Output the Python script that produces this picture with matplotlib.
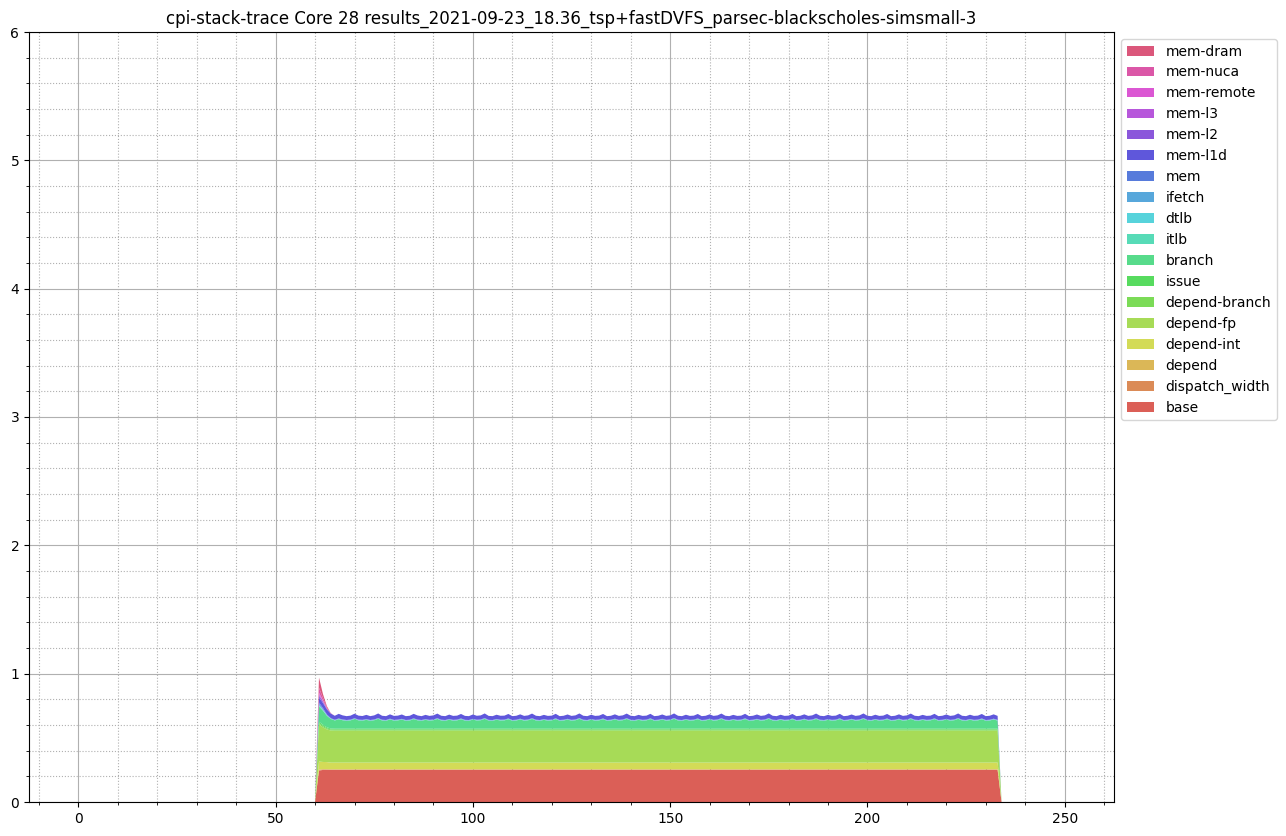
import numpy as np
import matplotlib
matplotlib.use("Agg")
import matplotlib.pyplot as plt
import seaborn as sns

# ---------------- data ----------------
x_values = list(range(0, 251))
start_x = 61   # first non-zero sample
end_x = 233    # last non-zero sample

labels = ["base", "dispatch_width", "depend", "depend-int", "depend-fp",
          "depend-branch", "issue", "branch", "itlb", "dtlb", "ifetch", "mem",
          "mem-l1d", "mem-l2", "mem-l3", "mem-remote", "mem-nuca", "mem-dram"]

n_active = end_x - start_x + 1  # 173 samples

base = [0.245] + [0.25] * (n_active - 1)
dispatch_width = [0.005] + [0.004] * (n_active - 1)
depend = [0.005, 0.003, 0.002] + [0.001] * (n_active - 3)
depend_int = [0.06, 0.055, 0.055] + [0.052] * (n_active - 3)
depend_fp = [0.29, 0.27, 0.255, 0.25] + [0.249] * (n_active - 4)
depend_branch = [0.01, 0.01, 0.008] + [0.008] * (n_active - 3)
issue = [0.01, 0.01, 0.008] + [0.007] * (n_active - 3)
branch = [0.12, 0.11, 0.09, 0.075,
          0.064, 0.074, 0.066, 0.062, 0.065, 0.076, 0.065, 0.063, 0.069, 0.062,
          0.066, 0.077, 0.064, 0.062, 0.072, 0.063, 0.065, 0.071, 0.062, 0.064,
          0.075, 0.065, 0.062, 0.069, 0.063, 0.066, 0.076, 0.064, 0.062, 0.070,
          0.063, 0.065, 0.074, 0.063, 0.062, 0.071, 0.064, 0.066, 0.077, 0.063,
          0.062, 0.070, 0.064, 0.065, 0.074, 0.062, 0.064, 0.072, 0.063, 0.066,
          0.076, 0.064, 0.062, 0.069, 0.063, 0.065, 0.075, 0.062, 0.064, 0.071,
          0.063, 0.066, 0.077, 0.064, 0.062, 0.070, 0.063, 0.065, 0.074, 0.062,
          0.064, 0.072, 0.063, 0.066, 0.076, 0.064, 0.062, 0.069, 0.063, 0.065,
          0.075, 0.062, 0.064, 0.071, 0.063, 0.066, 0.077, 0.064, 0.062, 0.070,
          0.063, 0.065, 0.074, 0.062, 0.064, 0.072, 0.063, 0.066, 0.076, 0.064,
          0.062, 0.069, 0.063, 0.065, 0.075, 0.062, 0.064, 0.071, 0.063, 0.066,
          0.077, 0.064, 0.062, 0.070, 0.063, 0.065, 0.074, 0.062, 0.064, 0.072,
          0.063, 0.066, 0.076, 0.064, 0.062, 0.069, 0.063, 0.065, 0.075, 0.062,
          0.064, 0.071, 0.063, 0.066, 0.077, 0.064, 0.062, 0.070, 0.063, 0.065,
          0.074, 0.062, 0.064, 0.072, 0.063, 0.066, 0.076, 0.064, 0.062, 0.069,
          0.063, 0.065, 0.075, 0.062, 0.064, 0.071, 0.063, 0.066, 0.077, 0.064,
          0.062, 0.070, 0.063, 0.065, 0.074, 0.062, 0.064, 0.072, 0.063]
itlb = [0.005, 0.003, 0.002] + [0.001] * (n_active - 3)
dtlb = [0.005, 0.003, 0.002] + [0.001] * (n_active - 3)
ifetch = [0.01, 0.006, 0.003] + [0.002] * (n_active - 3)
mem = [0.01, 0.008, 0.003] + [0.002] * (n_active - 3)
mem_l1d = [0.04, 0.04, 0.04, 0.036,
           0.031, 0.036, 0.032, 0.030, 0.031, 0.035, 0.031, 0.030, 0.033, 0.030,
           0.032, 0.036, 0.031, 0.030, 0.034, 0.031, 0.031, 0.034, 0.030, 0.031,
           0.035, 0.032, 0.030, 0.033, 0.031, 0.032, 0.036, 0.031, 0.030, 0.034,
           0.031, 0.031, 0.035, 0.031, 0.030, 0.034, 0.031, 0.032, 0.036, 0.031,
           0.030, 0.033, 0.031, 0.031, 0.035, 0.030, 0.031, 0.034, 0.031, 0.032,
           0.036, 0.031, 0.030, 0.033, 0.031, 0.031, 0.035, 0.030, 0.031, 0.034,
           0.031, 0.032, 0.036, 0.031, 0.030, 0.033, 0.031, 0.031, 0.035, 0.030,
           0.031, 0.034, 0.031, 0.032, 0.036, 0.031, 0.030, 0.033, 0.031, 0.031,
           0.035, 0.030, 0.031, 0.034, 0.031, 0.032, 0.036, 0.031, 0.030, 0.033,
           0.031, 0.031, 0.035, 0.030, 0.031, 0.034, 0.031, 0.032, 0.036, 0.031,
           0.030, 0.033, 0.031, 0.031, 0.035, 0.030, 0.031, 0.034, 0.031, 0.032,
           0.036, 0.031, 0.030, 0.033, 0.031, 0.031, 0.035, 0.030, 0.031, 0.034,
           0.031, 0.032, 0.036, 0.031, 0.030, 0.033, 0.031, 0.031, 0.035, 0.030,
           0.031, 0.034, 0.031, 0.032, 0.036, 0.031, 0.030, 0.033, 0.031, 0.031,
           0.035, 0.030, 0.031, 0.034, 0.031, 0.032, 0.036, 0.031, 0.030, 0.033,
           0.031, 0.031, 0.035, 0.030, 0.031, 0.034, 0.031, 0.032, 0.036, 0.031,
           0.030, 0.033, 0.031, 0.031, 0.035, 0.030, 0.031, 0.034, 0.031]
mem_l2 = [0.015, 0.01, 0.005] + [0.0] * (n_active - 3)
mem_l3 = [0.01, 0.005, 0.0] + [0.0] * (n_active - 3)
mem_remote = [0.01, 0.005, 0.0] + [0.0] * (n_active - 3)
mem_nuca = [0.04, 0.02, 0.01, 0.003] + [0.0] * (n_active - 4)
mem_dram = [0.08, 0.03, 0.01] + [0.0] * (n_active - 3)

series_active = [base, dispatch_width, depend, depend_int, depend_fp,
                 depend_branch, issue, branch, itlb, dtlb, ifetch, mem,
                 mem_l1d, mem_l2, mem_l3, mem_remote, mem_nuca, mem_dram]

title = "cpi-stack-trace Core 28 results_2021-09-23_18.36_tsp+fastDVFS_parsec-blackscholes-simsmall-3"

# ---------------- build full arrays ----------------
x = np.array(x_values)
ys = []
for s in series_active:
    full = np.zeros(len(x))
    full[start_x:end_x + 1] = np.array(s[:n_active])
    ys.append(full)

colors = sns.color_palette("hls", len(labels))

fig = plt.figure(figsize=(12.86, 8.36), dpi=100)
ax = fig.add_axes([29 / 1286, 1 - 802 / 836, (1114 - 29) / 1286, (802 - 32) / 836])
polys = ax.stackplot(x, *ys, labels=labels, colors=colors)

ax.set_ylim(0, 6)
ax.minorticks_on()
ax.grid(which="major", color="#b0b0b0", linestyle="-", linewidth=0.8)
ax.grid(which="minor", color="#b0b0b0", linestyle=":", linewidth=0.8)
ax.set_axisbelow(True)
ax.set_title(title, fontsize=12)

handles, lbls = ax.get_legend_handles_labels()
ax.legend(handles[::-1], lbls[::-1], loc="upper left", bbox_to_anchor=(1.0, 1.0),
          fontsize=10)

fig.savefig("out.png", dpi=100)
